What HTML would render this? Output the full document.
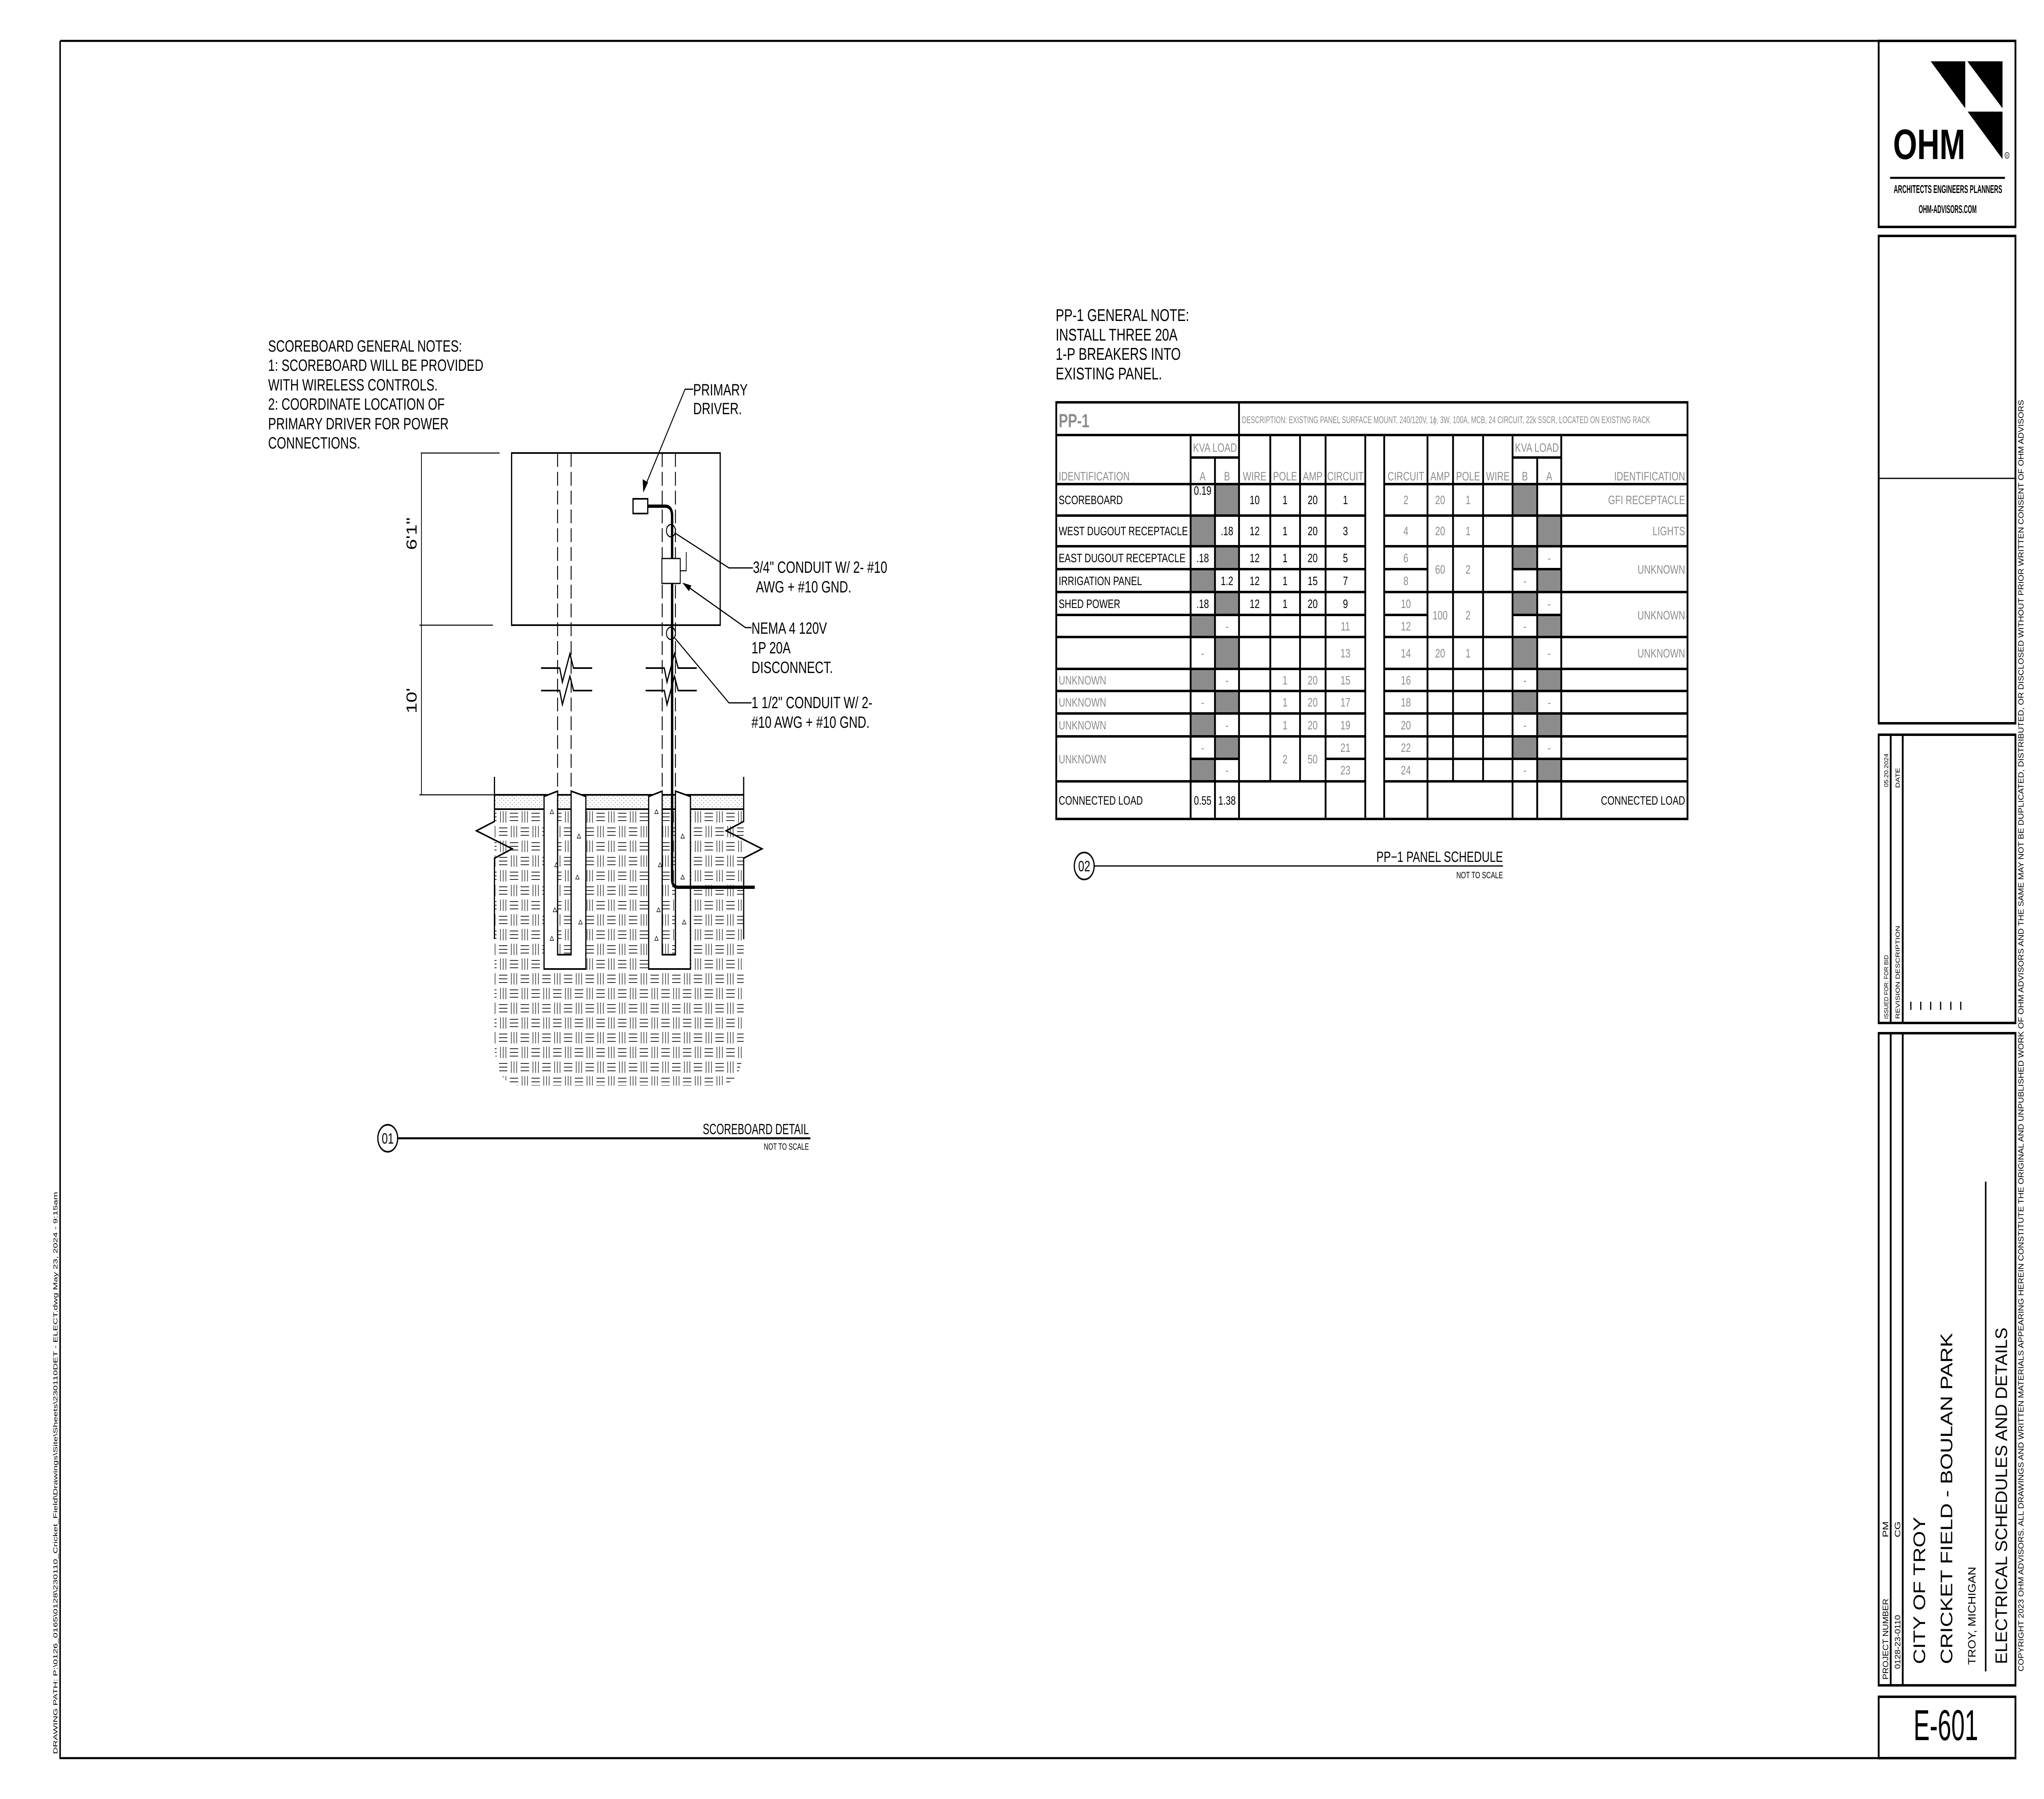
<!DOCTYPE html>
<html><head><meta charset="utf-8"><style>
html,body{margin:0;padding:0;background:#fff;width:100%;height:100%;overflow:hidden;}
svg{display:block;position:fixed;left:0;top:0;width:100vw;height:100vh;}
text{font-family:"Liberation Sans",Arial,sans-serif;}
.k{fill:#000;font-size:30px;}
.g{fill:#8c8c8c;font-size:30px;}
.c{text-anchor:middle;}
.r{text-anchor:end;}
.n{font-size:40px;fill:#000;}
</style></head><body>
<svg viewBox="0 0 6800 4400" preserveAspectRatio="none" xmlns="http://www.w3.org/2000/svg">
<defs>
<pattern id="hatch" width="72" height="72" patternUnits="userSpaceOnUse">
<rect width="72" height="72" fill="#fff"/>
<g stroke="#222" stroke-width="2">
<path d="M4 9H32M4 18H32M4 27H32"/>
<path d="M45 4V32M54 4V32M63 4V32"/>
<path d="M9 40V68M18 40V68M27 40V68"/>
<path d="M40 45H68M40 54H68M40 63H68"/>
</g></pattern>
<pattern id="dots" width="14" height="10" patternUnits="userSpaceOnUse">
<rect width="14" height="10" fill="#fff"/><circle cx="3" cy="3" r="1.2" fill="#777"/><circle cx="10" cy="8" r="1.2" fill="#777"/></pattern>
</defs>
<rect width="6800" height="4400" fill="#fff"/>

<path d="M200 100H6250M200 100V4300H6250" fill="none" stroke="#000" stroke-width="5"/>
<text transform="translate(191,4290) rotate(-90)" font-size="20" textLength="1375" lengthAdjust="spacingAndGlyphs">DRAWING PATH:  P:\0126_0165\0128\230110_Cricket_Field\Drawings\Site\Sheets\230110DET - ELECT.dwg     May 23, 2024 - 9:15am</text>

<g fill="none" stroke="#000" stroke-width="6">
<rect x="6250" y="100" width="455" height="455"/>
<rect x="6250" y="577" width="455" height="1192"/>
<rect x="6250" y="1797" width="455" height="705"/>
<rect x="6250" y="2527" width="455" height="1595"/>
<rect x="6250" y="4150" width="455" height="150"/>
<path d="M6290 1797V2502M6330 1797V2502M6290 2527V4122M6330 2527V4122"/>
</g>
<path d="M6250 1170H6705" stroke="#000" stroke-width="3"/>
<path d="M6606 2890V4088" stroke="#000" stroke-width="5"/>
<g stroke="#000" stroke-width="4"><path d="M6357 2450v20M6390 2450v20M6423 2450v20M6456 2450v20M6490 2450v20M6523 2450v20"/></g>
<polygon points="6423,150 6538,150 6538,265" fill="#000"/>
<polygon points="6545,150 6662,150 6662,265" fill="#000"/>
<polygon points="6546,273 6662,273 6662,389" fill="#000"/>
<text x="6298" y="389" font-size="104" font-weight="bold" textLength="240" lengthAdjust="spacingAndGlyphs">OHM</text>
<circle cx="6677" cy="380" r="7" fill="none" stroke="#000" stroke-width="1.5"/>
<text x="6677" y="384" font-size="9" text-anchor="middle">R</text>
<path d="M6288 435H6670" stroke="#000" stroke-width="5"/>
<text x="6300" y="472" font-size="28" font-weight="bold" textLength="361" lengthAdjust="spacingAndGlyphs">ARCHITECTS   ENGINEERS   PLANNERS</text>
<text x="6383" y="521" font-size="28" font-weight="bold" textLength="193" lengthAdjust="spacingAndGlyphs">OHM-ADVISORS.COM</text>
<text transform="translate(6282,2492) rotate(-90)" font-size="20" textLength="156" lengthAdjust="spacingAndGlyphs">ISSUED FOR:   FOR BID</text>
<text transform="translate(6282,1925) rotate(-90)" font-size="20" textLength="82" lengthAdjust="spacingAndGlyphs">05.20.2024</text>
<text transform="translate(6320,2492) rotate(-90)" font-size="20" textLength="228" lengthAdjust="spacingAndGlyphs">REVISION    DESCRIPTION</text>
<text transform="translate(6320,1927) rotate(-90)" font-size="20" textLength="49" lengthAdjust="spacingAndGlyphs">DATE</text>
<text transform="translate(6282,4108) rotate(-90)" font-size="26" textLength="198" lengthAdjust="spacingAndGlyphs">PROJECT NUMBER</text>
<text transform="translate(6282,3760) rotate(-90)" font-size="26">PM</text>
<text transform="translate(6322,4082) rotate(-90)" font-size="26" textLength="132" lengthAdjust="spacingAndGlyphs">0128-23-0110</text>
<text transform="translate(6322,3760) rotate(-90)" font-size="26">CG</text>
<text transform="translate(6404,4070) rotate(-90)" font-size="56" textLength="360" lengthAdjust="spacingAndGlyphs">CITY OF TROY</text>
<text transform="translate(6495,4070) rotate(-90)" font-size="56" textLength="810" lengthAdjust="spacingAndGlyphs">CRICKET FIELD - BOULAN PARK</text>
<text transform="translate(6572,4072) rotate(-90)" font-size="35" textLength="240" lengthAdjust="spacingAndGlyphs">TROY, MICHIGAN</text>
<text transform="translate(6677,4070) rotate(-90)" font-size="56" textLength="823" lengthAdjust="spacingAndGlyphs">ELECTRICAL SCHEDULES AND DETAILS</text>
<text transform="translate(6732,4088) rotate(-90)" font-size="25" textLength="3110" lengthAdjust="spacingAndGlyphs">COPYRIGHT 2023 OHM ADVISORS. ALL DRAWINGS AND WRITTEN MATERIALS APPEARING HEREIN CONSTITUTE THE ORIGINAL AND UNPUBLISHED WORK OF OHM ADVISORS AND THE SAME MAY NOT BE DUPLICATED, DISTRIBUTED, OR DISCLOSED WITHOUT PRIOR WRITTEN CONSENT OF OHM ADVISORS</text>
<text x="6366" y="4256" font-size="106" textLength="215" lengthAdjust="spacingAndGlyphs">E-601</text>

<g class="n">
<text x="892" y="860" font-size="40">SCOREBOARD GENERAL NOTES:</text>
<text x="892" y="907" font-size="40">1: SCOREBOARD WILL BE PROVIDED</text>
<text x="892" y="955" font-size="40">WITH WIRELESS CONTROLS.</text>
<text x="892" y="1002" font-size="40">2: COORDINATE LOCATION OF</text>
<text x="892" y="1050" font-size="40">PRIMARY DRIVER FOR POWER</text>
<text x="892" y="1097" font-size="40">CONNECTIONS.</text>
<text x="2306" y="967" font-size="40">PRIMARY</text>
<text x="2306" y="1013" font-size="40">DRIVER.</text>
<text x="2505" y="1401" font-size="40">3/4" CONDUIT W/ 2- #10</text>
<text x="2515" y="1449" font-size="40">AWG + #10 GND.</text>
<text x="2500" y="1550" font-size="40">NEMA 4 120V</text>
<text x="2500" y="1598" font-size="40">1P 20A</text>
<text x="2500" y="1646" font-size="40">DISCONNECT.</text>
<text x="2500" y="1732" font-size="40">1 1/2" CONDUIT W/ 2-</text>
<text x="2500" y="1780" font-size="40">#10 AWG + #10 GND.</text>
</g>

<path d="M1645 1979H2474V2545Q2474,2655 2387,2655H1732Q1645,2655 1645,2545Z" fill="url(#hatch)"/>
<rect x="1645" y="1944" width="829" height="35" fill="url(#dots)"/>
<path d="M1645 1944H2474M1645 1979H2474" stroke="#000" stroke-width="4"/>
<g stroke="#000" stroke-width="4" fill="#fff">
<path d="M1810 1948L1855 1935V2335H1900V1935L1949 1948V2370H1810Z"/>
<path d="M2158 1948L2203 1935V2335H2247V1935L2297 1948V2370H2158Z"/>
</g>
<g fill="none" stroke="#000" stroke-width="1.5">
<path d="M1830 1990l6 -10 6 10z M1845 2120l6 -10 6 10z M1920 2050l6 -10 6 10z M1830 2300l6 -10 6 10z M1925 2260l6 -10 6 10z M1915 2150l6-10 6 10z M1840 2230l6-10 6 10z"/>
<path d="M2178 1990l6 -10 6 10z M2190 2120l6 -10 6 10z M2265 2050l6 -10 6 10z M2178 2300l6 -10 6 10z M2270 2260l6 -10 6 10z M2265 2150l6-10 6 10z M2185 2230l6-10 6 10z"/>
</g>
<g fill="none" stroke="#000" stroke-width="4">
<path d="M1645 1900V2009L1585 2032L1704 2076L1645 2099V2297"/>
<path d="M2474 1900V2009L2416 2032L2535 2076L2474 2099V2297"/>
</g>
<rect x="1702" y="1108" width="694" height="421" fill="none" stroke="#000" stroke-width="4"/>
<g stroke="#000" stroke-width="3" stroke-dasharray="34 12" fill="none">
<path d="M1855 1108V2335M1900 1108V2335M2203 1108V2335M2247 1108V2335"/>
</g>
<g fill="none" stroke="#000" stroke-width="4">
<path d="M1800 1634H1862L1871 1668L1896 1599L1908 1634H1970"/>
<path d="M1800 1689H1862L1871 1723L1896 1654L1908 1689H1970"/>
<path d="M2148 1634H2210L2219 1668L2244 1599L2256 1634H2318"/>
<path d="M2148 1689H2210L2219 1723L2244 1654L2256 1689H2318"/>
</g>
<path d="M2155 1238H2212Q2236,1238 2236,1262V2150Q2236,2170 2256,2170H2511" fill="none" stroke="#000" stroke-width="8"/>
<rect x="2106" y="1220" width="49" height="36" fill="#fff" stroke="#000" stroke-width="4"/>
<rect x="2202" y="1366" width="61" height="61" fill="#fff" stroke="#000" stroke-width="3"/>
<path d="M2263 1396H2283V1350" fill="none" stroke="#000" stroke-width="2.5"/>
<circle cx="2232" cy="1298" r="15" fill="none" stroke="#000" stroke-width="3"/>
<circle cx="2232" cy="1549" r="15" fill="none" stroke="#000" stroke-width="3"/>
<g fill="none" stroke="#000" stroke-width="3">
<path d="M2306 952H2279L2143 1195"/>
<path d="M2244 1303L2425 1389H2505"/>
<path d="M2275 1428L2480 1535H2500"/>
<path d="M2242 1558L2425 1719H2500"/>
</g>
<polygon points="2140,1205 2138,1172 2156,1180" fill="#000"/>
<polygon points="2270,1425 2300,1432 2292,1446" fill="#000"/>
<g fill="none" stroke="#000" stroke-width="2.5">
<path d="M1400 1108H1662M1395 1529H1640M1395 1944H1810M1402 1108V1944"/>
</g>
<text transform="translate(1386,1345) rotate(-90)" font-size="48">6'1"</text>
<text transform="translate(1386,1745) rotate(-90)" font-size="48">10'</text>
<circle cx="1290" cy="2784" r="33" fill="none" stroke="#000" stroke-width="4"/>
<text x="1290" y="2797" font-size="36" text-anchor="middle" textLength="40" lengthAdjust="spacingAndGlyphs">01</text>
<path d="M1323 2784H2696" stroke="#000" stroke-width="5"/>
<text x="2338" y="2774" font-size="36" textLength="353" lengthAdjust="spacingAndGlyphs">SCOREBOARD  DETAIL</text>
<text x="2541" y="2812" font-size="22" textLength="150" lengthAdjust="spacingAndGlyphs">NOT  TO  SCALE</text>

<text x="3512" y="785" font-size="42">PP-1 GENERAL NOTE:</text>
<text x="3512" y="833" font-size="42">INSTALL THREE 20A</text>
<text x="3512" y="880" font-size="42">1-P BREAKERS INTO</text>
<text x="3512" y="928" font-size="42">EXISTING PANEL.</text>

<g fill="#8c8c8c">
<rect x="4042" y="1184" width="80" height="77"/>
<rect x="3961" y="1261" width="81" height="75"/>
<rect x="4042" y="1336" width="80" height="56"/>
<rect x="3961" y="1392" width="81" height="56"/>
<rect x="4042" y="1448" width="80" height="56"/>
<rect x="3961" y="1504" width="81" height="54"/>
<rect x="4042" y="1558" width="80" height="78"/>
<rect x="3961" y="1636" width="81" height="54"/>
<rect x="4042" y="1690" width="80" height="55"/>
<rect x="3961" y="1745" width="81" height="56"/>
<rect x="4042" y="1801" width="80" height="55"/>
<rect x="3961" y="1856" width="81" height="55"/>
<rect x="5032" y="1184" width="82" height="77"/>
<rect x="5114" y="1261" width="80" height="75"/>
<rect x="5032" y="1336" width="82" height="56"/>
<rect x="5114" y="1392" width="80" height="56"/>
<rect x="5032" y="1448" width="82" height="56"/>
<rect x="5114" y="1504" width="80" height="54"/>
<rect x="5032" y="1558" width="82" height="78"/>
<rect x="5114" y="1636" width="80" height="54"/>
<rect x="5032" y="1690" width="82" height="55"/>
<rect x="5114" y="1745" width="80" height="56"/>
<rect x="5032" y="1801" width="82" height="55"/>
<rect x="5114" y="1856" width="80" height="55"/>
</g>
<g stroke="#000" stroke-width="6" fill="none">
<rect x="3514" y="984" width="2100" height="1019"/>
<path d="M3514 1064H5614"/>
<path d="M3514 1184H4542M4605 1184H5614"/>
<path d="M3961 1119H4122M5032 1119H5194"/>
<path d="M3514 1261H4542M3514 1336H4542M3514 1392H4542M3514 1448H4542M3514 1504H4542M3514 1558H4542M3514 1636H4542M3514 1690H4542M3514 1745H4542M3514 1801H4542M3514 1911H4542"/>
<path d="M3961 1856H4122M4410 1856H4542"/>
<path d="M4605 1261H5614M4605 1336H5614M4605 1448H5614M4605 1558H5614M4605 1636H5614M4605 1690H5614M4605 1745H5614M4605 1801H5614M4605 1856H5614M4605 1911H5614"/>
<path d="M4605 1392H4749M5032 1392H5194M4605 1504H4749M5032 1504H5194"/>
<path d="M4122 984V2003M3961 1064V2003M4042 1119V2003M4226 1064V1911M4325 1064V1911M4410 1064V2003M4542 1064V2003"/>
<path d="M4605 1064V2003M4749 1064V2003M4834 1064V1911M4934 1064V1911M5032 1064V2003M5114 1119V2003M5194 1064V2003"/>
</g>
<text x="3522" y="1045" font-size="46" font-weight="bold" fill="#8c8c8c">PP-1</text>
<text x="4132" y="1035" font-size="24" fill="#8c8c8c" textLength="1358" lengthAdjust="spacingAndGlyphs">DESCRIPTION: EXISTING PANEL SURFACE MOUNT, 240/120V, 1ϕ, 3W, 100A, MCB, 24 CIRCUIT,    22k SSCR, LOCATED ON EXISTING RACK</text>
<g class="g">
<text x="4042" y="1105" class="g c">KVA LOAD</text>
<text x="5113" y="1105" class="g c">KVA LOAD</text>
<text x="3522" y="1175" class="g">IDENTIFICATION</text>
<text x="4001" y="1175" class="g c">A</text><text x="4082" y="1175" class="g c">B</text>
<text x="4174" y="1175" class="g c">WIRE</text><text x="4275" y="1175" class="g c">POLE</text>
<text x="4367" y="1175" class="g c">AMP</text><text x="4476" y="1175" class="g c">CIRCUIT</text>
<text x="4677" y="1175" class="g c">CIRCUIT</text><text x="4791" y="1175" class="g c">AMP</text>
<text x="4884" y="1175" class="g c">POLE</text><text x="4983" y="1175" class="g c">WIRE</text>
<text x="5073" y="1175" class="g c">B</text><text x="5154" y="1175" class="g c">A</text>
<text x="5606" y="1175" class="g r">IDENTIFICATION</text>
</g>
<g class="k">
<text x="3522" y="1233">SCOREBOARD</text>
<text x="4001" y="1210" class="k c">0.19</text>
<text x="4174" y="1233" class="k c">10</text><text x="4275" y="1233" class="k c">1</text><text x="4367" y="1233" class="k c">20</text><text x="4476" y="1233" class="k c">1</text>
<text x="3522" y="1309">WEST DUGOUT RECEPTACLE</text>
<text x="4082" y="1309" class="k c">.18</text>
<text x="4174" y="1309" class="k c">12</text><text x="4275" y="1309" class="k c">1</text><text x="4367" y="1309" class="k c">20</text><text x="4476" y="1309" class="k c">3</text>
<text x="3522" y="1375">EAST DUGOUT RECEPTACLE</text>
<text x="4001" y="1375" class="k c">.18</text>
<text x="4174" y="1375" class="k c">12</text><text x="4275" y="1375" class="k c">1</text><text x="4367" y="1375" class="k c">20</text><text x="4476" y="1375" class="k c">5</text>
<text x="3522" y="1431">IRRIGATION PANEL</text>
<text x="4082" y="1431" class="k c">1.2</text>
<text x="4174" y="1431" class="k c">12</text><text x="4275" y="1431" class="k c">1</text><text x="4367" y="1431" class="k c">15</text><text x="4476" y="1431" class="k c">7</text>
<text x="3522" y="1487">SHED POWER</text>
<text x="4001" y="1487" class="k c">.18</text>
<text x="4174" y="1487" class="k c">12</text><text x="4275" y="1487" class="k c">1</text><text x="4367" y="1487" class="k c">20</text><text x="4476" y="1487" class="k c">9</text>
<text x="3522" y="1968">CONNECTED LOAD</text>
<text x="4001" y="1968" class="k c">0.55</text><text x="4082" y="1968" class="k c">1.38</text>
<text x="5606" y="1968" class="k r">CONNECTED LOAD</text>
</g>
<g class="g">
<text x="4082" y="1542" class="g c">-</text><text x="4476" y="1542" class="g c">11</text>
<text x="4001" y="1608" class="g c">-</text><text x="4476" y="1608" class="g c">13</text>
<text x="3522" y="1674">UNKNOWN</text><text x="4082" y="1674" class="g c">-</text><text x="4275" y="1674" class="g c">1</text><text x="4367" y="1674" class="g c">20</text><text x="4476" y="1674" class="g c">15</text>
<text x="3522" y="1728">UNKNOWN</text><text x="4001" y="1728" class="g c">-</text><text x="4275" y="1728" class="g c">1</text><text x="4367" y="1728" class="g c">20</text><text x="4476" y="1728" class="g c">17</text>
<text x="3522" y="1784">UNKNOWN</text><text x="4082" y="1784" class="g c">-</text><text x="4275" y="1784" class="g c">1</text><text x="4367" y="1784" class="g c">20</text><text x="4476" y="1784" class="g c">19</text>
<text x="3522" y="1867">UNKNOWN</text><text x="4001" y="1839" class="g c">-</text><text x="4082" y="1894" class="g c">-</text>
<text x="4275" y="1867" class="g c">2</text><text x="4367" y="1867" class="g c">50</text>
<text x="4476" y="1839" class="g c">21</text><text x="4476" y="1894" class="g c">23</text>
</g>
<g class="g">
<text x="4677" y="1233" class="g c">2</text><text x="4791" y="1233" class="g c">20</text><text x="4884" y="1233" class="g c">1</text><text x="5606" y="1233" class="g r">GFI RECEPTACLE</text>
<text x="4677" y="1309" class="g c">4</text><text x="4791" y="1309" class="g c">20</text><text x="4884" y="1309" class="g c">1</text><text x="5606" y="1309" class="g r">LIGHTS</text>
<text x="4677" y="1375" class="g c">6</text><text x="5154" y="1375" class="g c">-</text>
<text x="4677" y="1431" class="g c">8</text><text x="5073" y="1431" class="g c">-</text>
<text x="4791" y="1403" class="g c">60</text><text x="4884" y="1403" class="g c">2</text><text x="5606" y="1403" class="g r">UNKNOWN</text>
<text x="4677" y="1487" class="g c">10</text><text x="5154" y="1487" class="g c">-</text>
<text x="4677" y="1542" class="g c">12</text><text x="5073" y="1542" class="g c">-</text>
<text x="4791" y="1515" class="g c">100</text><text x="4884" y="1515" class="g c">2</text><text x="5606" y="1515" class="g r">UNKNOWN</text>
<text x="4677" y="1608" class="g c">14</text><text x="4791" y="1608" class="g c">20</text><text x="4884" y="1608" class="g c">1</text><text x="5154" y="1608" class="g c">-</text><text x="5606" y="1608" class="g r">UNKNOWN</text>
<text x="4677" y="1674" class="g c">16</text><text x="5073" y="1674" class="g c">-</text>
<text x="4677" y="1728" class="g c">18</text><text x="5154" y="1728" class="g c">-</text>
<text x="4677" y="1784" class="g c">20</text><text x="5073" y="1784" class="g c">-</text>
<text x="4677" y="1839" class="g c">22</text><text x="5154" y="1839" class="g c">-</text>
<text x="4677" y="1894" class="g c">24</text><text x="5073" y="1894" class="g c">-</text>
</g>
<circle cx="3607" cy="2118" r="33" fill="none" stroke="#000" stroke-width="4"/>
<text x="3607" y="2131" font-size="36" text-anchor="middle" textLength="40" lengthAdjust="spacingAndGlyphs">02</text>
<path d="M3640 2118H5000" stroke="#000" stroke-width="3"/>
<text x="4579" y="2108" font-size="36" textLength="421" lengthAdjust="spacingAndGlyphs">PP−1  PANEL  SCHEDULE</text>
<text x="4845" y="2148" font-size="22" textLength="155" lengthAdjust="spacingAndGlyphs">NOT  TO  SCALE</text>
</svg>
</body></html>
